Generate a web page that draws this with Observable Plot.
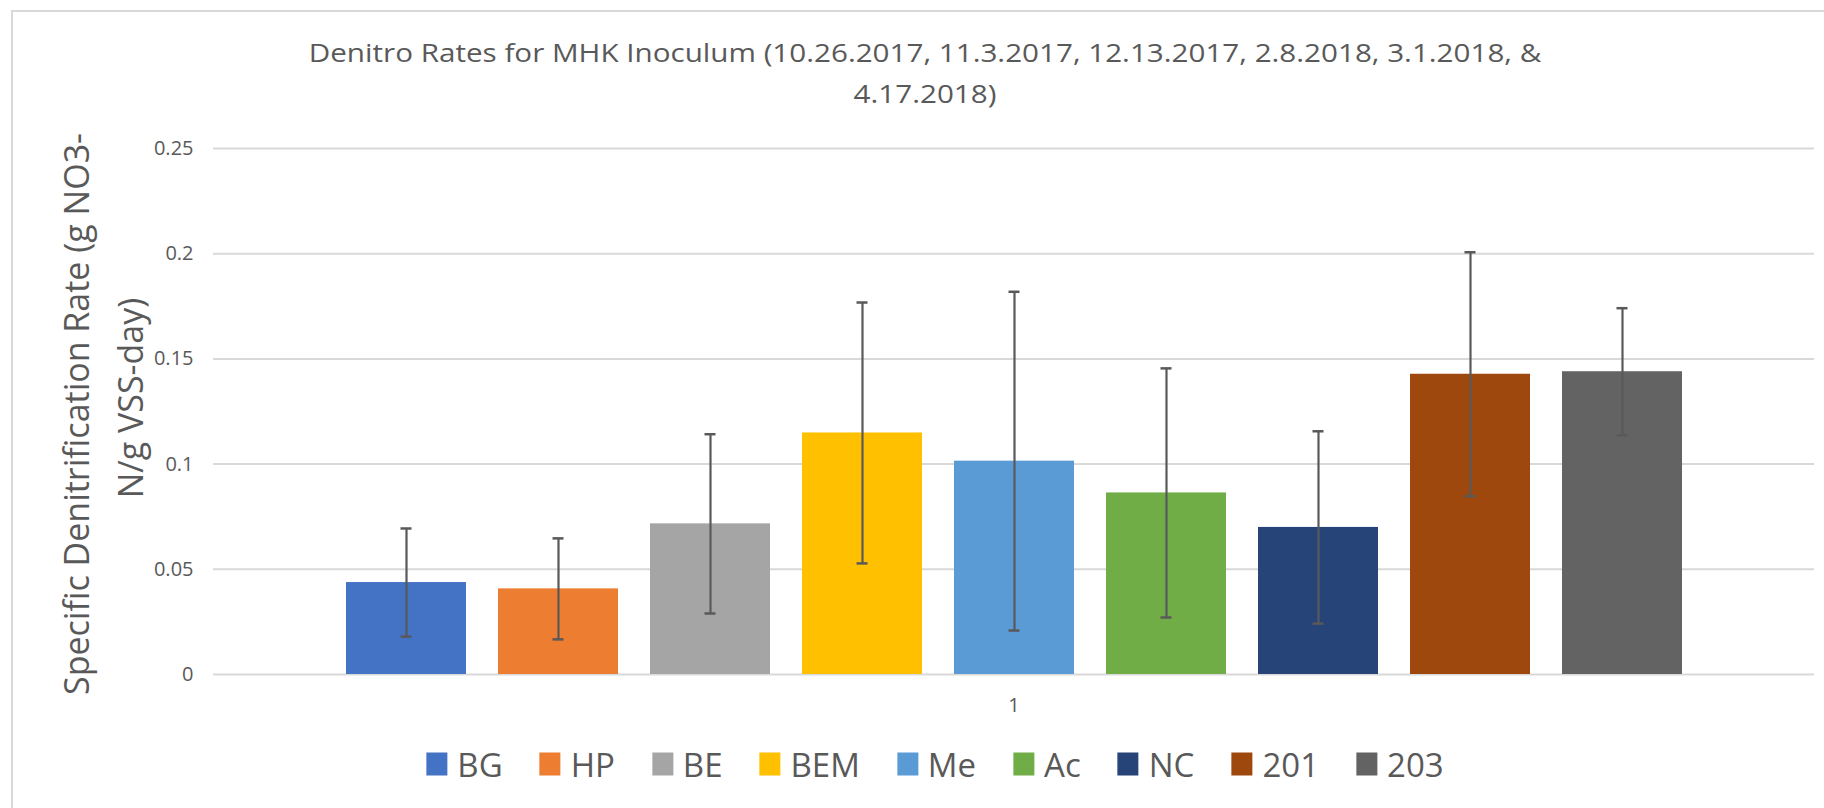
<!DOCTYPE html>
<html>
<head>
<meta charset="utf-8">
<script src="https://cdn.jsdelivr.net/npm/d3@7"></script>
<script src="https://cdn.jsdelivr.net/npm/@observablehq/plot@0.6"></script>
<style>
  html, body { margin: 0; padding: 0; background: #fff; }
  #wrap { position: relative; width: 1824px; height: 808px; overflow: hidden; font-family: "Open Sans", sans-serif; }
  #border { position: absolute; left: 11px; top: 10px; width: 1900px; height: 900px; border: 2px solid #d9d9d9; box-sizing: border-box; }
  #chart svg { position: absolute; left: 0; top: 0; }
  #overlay { position: absolute; left: 0; top: 0; pointer-events: none; }
  #legend { position: absolute; left: 935px; top: 764px; transform: translate(-50%, -50%); display: flex; align-items: center; white-space: nowrap; gap: 37px; }
  .item { display: flex; align-items: center; }
  .sw { width: 21px; height: 23px; margin-right: 10px; }
  .lab { font-size: 33px; color: #595959; line-height: 1; }
</style>
</head>
<body>
<div id="wrap">
  <div id="border"></div>
  <div id="chart"></div>
  <svg id="overlay" width="1824" height="808"></svg>
  <div id="legend"></div>
</div>
<script>
// ---- data ----
const series = ["BG", "HP", "BE", "BEM", "Me", "Ac", "NC", "201", "203"];
const means = [0.0437, 0.0407, 0.0716, 0.1148, 0.1014, 0.0863, 0.0699, 0.1427, 0.1439];
const errors = [0.0257, 0.0240, 0.0426, 0.0620, 0.0805, 0.0592, 0.0457, 0.0580, 0.0302];
const colors = ["#4472C4", "#ED7D31", "#A5A5A5", "#FFC000", "#5B9BD5", "#70AD47", "#264478", "#9E480E", "#636363"];
const categories = ["1"];
const yTicks = [0, 0.05, 0.1, 0.15, 0.2, 0.25];
const titleLines = ["Denitro Rates for MHK Inoculum (10.26.2017, 11.3.2017, 12.13.2017, 2.8.2018, 3.1.2018, &", "4.17.2018)"];
const yTitleLines = ["Specific Denitrification Rate (g NO3-", "N/g VSS-day)"];

const rows = series.map((s, i) => ({
  cat: categories[0], name: s, value: means[i],
  lo: means[i] - errors[i], hi: means[i] + errors[i]
}));

const chart = Plot.plot({
  width: 1824,
  height: 808,
  marginLeft: 213,
  marginRight: 10,
  marginTop: 148,
  marginBottom: 134,
  style: { fontFamily: "Open Sans, sans-serif", fontSize: "20px", color: "#595959", background: "transparent" },
  fx: { domain: categories, padding: 0, label: null, tickSize: 0, tickPadding: 23 },
  x: { domain: series, paddingInner: 0.2126, paddingOuter: 0.859, axis: null },
  y: { domain: [0, 0.25], ticks: yTicks, tickFormat: d3.format("~g"), tickSize: 0, tickPadding: 20, label: null },
  color: { domain: series, range: colors },
  marks: [
    Plot.ruleY(yTicks, { stroke: "#d9d9d9", strokeWidth: 2 }),
    Plot.barY(rows, { fx: "cat", x: "name", y: "value", fill: "name" }),
    Plot.ruleX(rows, { fx: "cat", x: "name", y1: "lo", y2: "hi", stroke: "#595959", strokeWidth: 2.2 }),
    Plot.tickY(rows, { fx: "cat", x: "name", y: "hi", stroke: "#595959", strokeWidth: 2.5, insetLeft: 54.5, insetRight: 54.5 }),
    Plot.tickY(rows, { fx: "cat", x: "name", y: "lo", stroke: "#595959", strokeWidth: 2.5, insetLeft: 54.5, insetRight: 54.5 })
  ]
});
document.getElementById("chart").appendChild(chart);

// ---- overlay text: title and y-axis title ----
const ov = d3.select("#overlay");
ov.selectAll("text.title").data(titleLines).join("text")
  .attr("class", "title")
  .attr("transform", (d, i) => `translate(925,${62 + i * 41}) scale(1.14,1)`)
  .attr("text-anchor", "middle")
  .attr("fill", "#595959")
  .style("font-family", "Open Sans, sans-serif")
  .style("font-size", "26px")
  .text(d => d);

const yPos = [[89, 414], [143, 398]];
ov.selectAll("text.ytitle").data(yTitleLines).join("text")
  .attr("class", "ytitle")
  .attr("transform", (d, i) => `translate(${yPos[i][0]},${yPos[i][1]}) rotate(-90)`)
  .attr("text-anchor", "middle")
  .attr("fill", "#595959")
  .style("font-family", "Open Sans, sans-serif")
  .style("font-size", "34px")
  .text(d => d);

// ---- legend ----
const lg = d3.select("#legend");
const items = lg.selectAll("div.item").data(series).join("div").attr("class", "item");
items.append("div").attr("class", "sw").style("background", (d, i) => colors[i]);
items.append("div").attr("class", "lab").text(d => d);
</script>
</body>
</html>
